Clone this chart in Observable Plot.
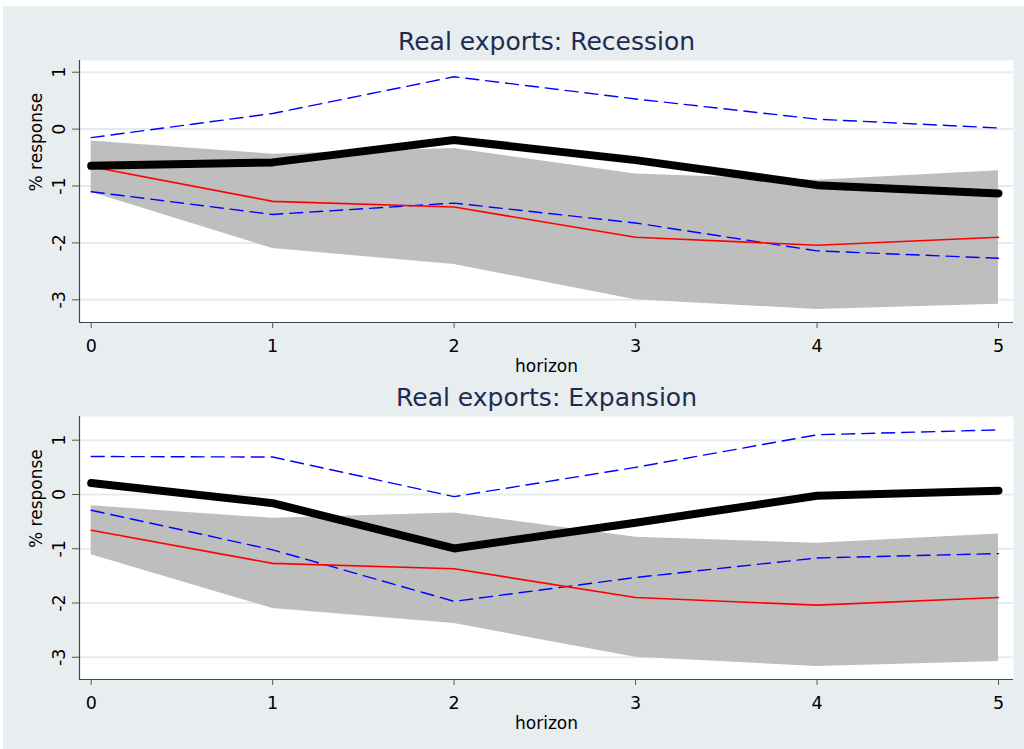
<!DOCTYPE html>
<html>
<head>
<meta charset="utf-8">
<script src="https://cdn.jsdelivr.net/npm/d3@7"></script>
<script src="https://cdn.jsdelivr.net/npm/@observablehq/plot@0.6"></script>
<style>
  html, body { margin: 0; padding: 0; background: #ffffff; }
  #page { position: relative; width: 1024px; height: 749px; overflow: hidden; }
  #bg { position: absolute; left: 3px; top: 6px; right: 0; bottom: 0; background: #e8eef0; }
  .panel { position: absolute; left: 0; }
</style>
</head>
<body>
<div id="page"><div id="bg"></div></div>
<script>
// Impulse responses of real exports over a 0–5 horizon
const horizon = [0, 1, 2, 3, 4, 5];
const yTicks = [1, 0, -1, -2, -3];

// Linear-model response and its confidence band (grey area, red line)
const linearIrf   = [-0.66, -1.27, -1.37, -1.90, -2.04, -1.90];
const linearUpper = [-0.21, -0.44, -0.34, -0.79, -0.90, -0.73];
const linearLower = [-1.11, -2.10, -2.38, -3.00, -3.17, -3.08];

// State-dependent responses (thick black) with bounds (blue dashed)
const recessionIrf   = [-0.645, -0.585, -0.19, -0.545, -0.985, -1.13];
const recessionUpper = [-0.15, 0.275, 0.92, 0.53, 0.175, 0.02];
const recessionLower = [-1.10, -1.50, -1.30, -1.65, -2.14, -2.27];

const expansionIrf   = [0.21, -0.16, -0.995, -0.52, -0.025, 0.07];
const expansionUpper = [0.70, 0.69, -0.04, 0.50, 1.10, 1.19];
const expansionLower = [-0.29, -1.02, -1.97, -1.53, -1.17, -1.09];

const xDomain = [-0.0645, 5.0827];
const plain = (d) => String(d);

function panel({title, irf, upper, lower, yDomain, height, marginTop, marginBottom}) {
  const rows = horizon.map((h, i) => ({
    h, irf: irf[i], up: upper[i], lo: lower[i],
    lin: linearIrf[i], linUp: linearUpper[i], linLo: linearLower[i]
  }));
  const font = "'DejaVu Sans', sans-serif";
  return Plot.plot({
    width: 1024,
    height,
    marginLeft: 79,
    marginRight: 11,
    marginTop,
    marginBottom,
    style: {background: "transparent", fontFamily: font, fontSize: "17px", color: "#000", overflow: "visible"},
    x: {domain: xDomain},
    y: {domain: yDomain},
    marks: [
      Plot.frame({fill: "#ffffff", stroke: null}),
      Plot.ruleY(yTicks, {stroke: "#e4ecef", strokeWidth: 2}),
      Plot.areaY(rows, {x: "h", y1: "linLo", y2: "linUp", fill: "#bebebe"}),
      Plot.lineY(rows, {x: "h", y: "up", stroke: "#0000ff", strokeWidth: 1.4, strokeDasharray: "13,7"}),
      Plot.lineY(rows, {x: "h", y: "lo", stroke: "#0000ff", strokeWidth: 1.4, strokeDasharray: "13,7"}),
      Plot.lineY(rows, {x: "h", y: "lin", stroke: "#ff0000", strokeWidth: 1.6}),
      Plot.lineY(rows, {x: "h", y: "irf", stroke: "#000000", strokeWidth: 8, strokeLinecap: "round", strokeLinejoin: "round"}),
      Plot.ruleX([xDomain[0]], {stroke: "#444", strokeWidth: 1.2}),
      Plot.ruleY([yDomain[0]], {stroke: "#444", strokeWidth: 1.2}),
      Plot.axisY(yTicks, {anchor: "left", tickRotate: -90, tickSize: 7, tickPadding: 8, stroke: "#555", fill: "#000", fontSize: 17.5, tickFormat: plain, label: null}),
      Plot.axisX(horizon, {anchor: "bottom", tickSize: 6, tickPadding: 11, stroke: "#555", fill: "#000", fontSize: 17.5, tickFormat: plain, label: null}),
      Plot.text([title], {frameAnchor: "top", dy: -19, lineAnchor: "middle", fontSize: 25, fill: "#1f2b50"}),
      Plot.text(["% response"], {frameAnchor: "left", dx: -43, rotate: -90, lineAnchor: "middle", fontSize: 17}),
      Plot.text(["horizon"], {frameAnchor: "bottom", dy: 44, lineAnchor: "middle", fontSize: 17})
    ]
  });
}

const page = document.getElementById("page");

const recessionChart = panel({
  title: "Real exports: Recession",
  irf: recessionIrf, upper: recessionUpper, lower: recessionLower,
  yDomain: [-3.399, 1.206], height: 375, marginTop: 60, marginBottom: 53
});
recessionChart.classList.add("panel");
recessionChart.style.top = "0px";
page.appendChild(recessionChart);

const expansionChart = panel({
  title: "Real exports: Expansion",
  irf: expansionIrf, upper: expansionUpper, lower: expansionLower,
  yDomain: [-3.41, 1.437], height: 374, marginTop: 41, marginBottom: 70
});
expansionChart.classList.add("panel");
expansionChart.style.top = "375px";
page.appendChild(expansionChart);
</script>
</body>
</html>
